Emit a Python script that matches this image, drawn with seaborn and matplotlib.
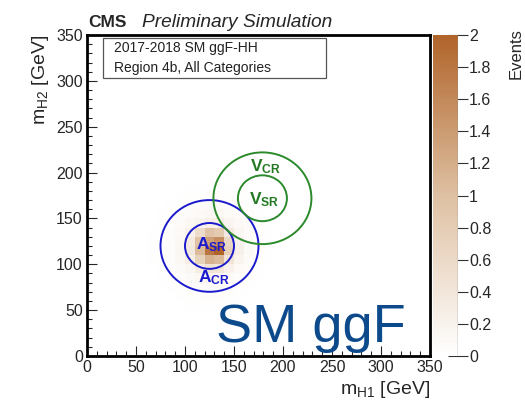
import numpy as np
import pandas as pd
import matplotlib
matplotlib.use("Agg")
import matplotlib.pyplot as plt
from matplotlib.colors import LinearSegmentedColormap
from matplotlib.patches import Circle, Rectangle
from matplotlib.ticker import MultipleLocator, FuncFormatter
import seaborn as sns

# ---------------- data ----------------
x_centers = [65, 75, 85, 95, 105, 115, 125, 135, 145, 155, 165, 175, 185]
y_centers = [185, 175, 165, 155, 145, 135, 125, 115, 105, 95, 85, 75, 65, 55]
events = [
    [0.00, 0.00, 0.00, 0.00, 0.02, 0.02, 0.02, 0.02, 0.02, 0.02, 0.00, 0.00, 0.00],
    [0.00, 0.00, 0.00, 0.02, 0.03, 0.03, 0.04, 0.04, 0.03, 0.03, 0.02, 0.00, 0.00],
    [0.00, 0.00, 0.02, 0.03, 0.04, 0.06, 0.07, 0.07, 0.05, 0.04, 0.03, 0.02, 0.00],
    [0.00, 0.02, 0.03, 0.05, 0.07, 0.10, 0.12, 0.12, 0.09, 0.06, 0.04, 0.02, 0.00],
    [0.00, 0.02, 0.04, 0.07, 0.12, 0.20, 0.25, 0.24, 0.16, 0.10, 0.05, 0.03, 0.02],
    [0.02, 0.03, 0.05, 0.10, 0.22, 0.55, 0.95, 0.85, 0.35, 0.15, 0.07, 0.03, 0.02],
    [0.02, 0.03, 0.06, 0.14, 0.34, 0.95, 1.35, 1.55, 0.62, 0.22, 0.09, 0.04, 0.02],
    [0.02, 0.03, 0.06, 0.15, 0.36, 1.05, 1.80, 2.00, 0.72, 0.24, 0.09, 0.04, 0.02],
    [0.02, 0.03, 0.05, 0.12, 0.27, 0.72, 1.15, 1.05, 0.44, 0.18, 0.07, 0.03, 0.02],
    [0.00, 0.02, 0.04, 0.08, 0.15, 0.30, 0.45, 0.40, 0.22, 0.10, 0.05, 0.02, 0.00],
    [0.00, 0.02, 0.03, 0.05, 0.08, 0.14, 0.18, 0.16, 0.10, 0.06, 0.03, 0.02, 0.00],
    [0.00, 0.00, 0.02, 0.03, 0.05, 0.07, 0.08, 0.08, 0.05, 0.03, 0.02, 0.00, 0.00],
    [0.00, 0.00, 0.00, 0.02, 0.03, 0.04, 0.04, 0.04, 0.03, 0.02, 0.00, 0.00, 0.00],
    [0.00, 0.00, 0.00, 0.00, 0.02, 0.02, 0.02, 0.02, 0.02, 0.00, 0.00, 0.00, 0.00],
]
region_names = ["A", "V"]
region_centers = [(125, 120), (179, 172)]
sr_radius = 25
cr_radius = 50
region_colors = ["#1a1acc", "#2b8a2b"]
region_text_colors = ["#1a1ad0", "#237a23"]
sr_label_pos = [(127, 121), (181, 170)]
cr_label_pos = [(130, 85), (182, 207)]
cbar_ticks = [0, 0.2, 0.4, 0.6, 0.8, 1.0, 1.2, 1.4, 1.6, 1.8, 2.0]

rows = []
for yi, yc in enumerate(y_centers):
    for xi, xc in enumerate(x_centers):
        if events[yi][xi] > 0:
            rows.append({"mH1": xc, "mH2": yc, "w": events[yi][xi]})
df = pd.DataFrame(rows)

# ---------------- style ----------------
sns.set_style("ticks")
plt.rcParams["font.family"] = ["Liberation Sans", "DejaVu Sans"]
plt.rcParams["mathtext.fontset"] = "custom"
plt.rcParams["mathtext.rm"] = "Liberation Sans"
plt.rcParams["mathtext.it"] = "Liberation Sans:italic"
plt.rcParams["mathtext.bf"] = "Liberation Sans:bold"

cmap = LinearSegmentedColormap.from_list("root_brown", ["#ffffff", "#dec0a2", "#b0642a"])

fig = plt.figure(figsize=(5.25, 4.08), dpi=100)
ax = fig.add_axes([87 / 525, 52 / 408, 343 / 525, 321 / 408])
cax = fig.add_axes([433 / 525, 52 / 408, 25 / 525, 321 / 408])

sns.histplot(data=df, x="mH1", y="mH2", weights="w", bins=35,
             binrange=((0, 350), (0, 350)), cmap=cmap, vmin=0, vmax=2,
             cbar=True, cbar_ax=cax, cbar_kws={"ticks": cbar_ticks}, ax=ax)

ax.set_xlim(0, 350)
ax.set_ylim(0, 350)

# regions
for name, c, col, tcol, sp, cp in zip(region_names, region_centers, region_colors,
                                      region_text_colors, sr_label_pos, cr_label_pos):
    ax.add_patch(Circle(c, sr_radius, fill=False, edgecolor=col, lw=1.4, zorder=5))
    ax.add_patch(Circle(c, cr_radius, fill=False, edgecolor=col, lw=1.4, zorder=5))
    ax.text(sp[0], sp[1], r"$\mathbf{%s}_{\mathbf{SR}}$" % name, color=tcol,
            fontsize=12.5, ha="center", va="center", zorder=6)
    ax.text(cp[0], cp[1], r"$\mathbf{%s}_{\mathbf{CR}}$" % name, color=tcol,
            fontsize=12.5, ha="center", va="center", zorder=6)

# legend box
ax.add_patch(Rectangle((16.5, 303), 227, 44, facecolor="white", edgecolor="#555555",
                       lw=0.9, zorder=7))
ax.text(27.5, 335.5, "2017-2018 SM ggF-HH", fontsize=10, va="center", ha="left",
        color="#222222", zorder=8)
ax.text(27.5, 314, "Region 4b, All Categories", fontsize=10, va="center", ha="left",
        color="#222222", zorder=8)

ax.text(325, 15, "SM ggF", fontsize=39, color="#0d4a8c", ha="right", va="baseline",
        zorder=8)

# axes formatting
for sp_ in ax.spines.values():
    sp_.set_visible(True)
    sp_.set_linewidth(2)
    sp_.set_color("black")
ax.xaxis.set_major_locator(MultipleLocator(50))
ax.xaxis.set_minor_locator(MultipleLocator(10))
ax.yaxis.set_major_locator(MultipleLocator(50))
ax.yaxis.set_minor_locator(MultipleLocator(10))
ax.tick_params(which="major", direction="in", length=7, width=0.8, labelsize=11.5,
               top=False, right=False, pad=3)
ax.tick_params(which="minor", direction="in", length=3.5, width=0.8,
               top=False, right=False)
ax.set_xlabel(r"m$_{\mathregular{H1}}$ [GeV]", fontsize=14, loc="right", labelpad=3)
ax.set_ylabel(r"m$_{\mathregular{H2}}$ [GeV]", fontsize=14, loc="top", labelpad=4)

# colorbar
cax.yaxis.set_major_formatter(FuncFormatter(lambda v, p: "%g" % round(v, 1)))
cax.tick_params(direction="inout", length=14, width=0.8, labelsize=11.5, pad=1,
                color="#333333")
for s in cax.spines.values():
    s.set_visible(False)
cax.axvline(1, color="#888888", lw=1)
cax.set_ylim(0, 2)

fig.text(88 / 525, 1 - 27 / 408, "CMS", fontsize=12.5, fontweight="bold",
         ha="left", va="baseline")
fig.text(142 / 525, 1 - 27 / 408, "Preliminary Simulation", fontsize=13.8,
         fontstyle="italic", ha="left", va="baseline")
fig.text(524 / 525, 1 - 28 / 408, "Events", fontsize=12, rotation=90,
         ha="right", va="top")

fig.savefig("out.png", dpi=100)
